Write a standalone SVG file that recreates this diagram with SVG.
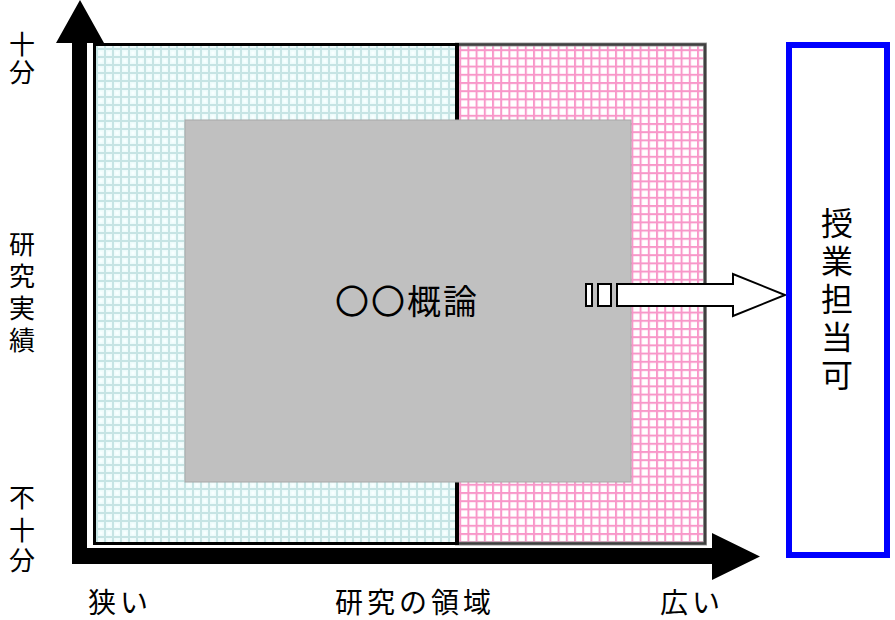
<svg xmlns="http://www.w3.org/2000/svg" width="895" height="620" viewBox="0 0 895 620">
<style>
text{font-family:"Noto Sans CJK JP","Noto Sans CJK SC",sans-serif;fill:#000}
.ax{fill:#000;stroke:none}
.lbl{font-size:28px;letter-spacing:4px}
.side{font-size:26px;text-anchor:middle}
</style>
<defs>
<pattern id="blueGrid" width="8" height="8" patternUnits="userSpaceOnUse">
<rect width="8" height="8" fill="#c6e4e4"/>
<rect x="2" y="2" width="6" height="6" fill="#eefbfb"/>
<rect x="3.5" y="3.5" width="3" height="3" fill="#f8ffff"/>
</pattern>
<pattern id="pinkGrid" width="8.2" height="8.2" patternUnits="userSpaceOnUse">
<rect width="8.2" height="8.2" fill="#ffffff"/>
<rect width="2" height="8.2" fill="#f897c9"/>
<rect width="8.2" height="2" fill="#f897c9"/>
</pattern>
</defs>
<rect width="895" height="620" fill="#fff"/>
<g id="region-wide">
<rect x="457" y="44.5" width="248" height="499" fill="url(#pinkGrid)" stroke="#a0a0a0" stroke-width="4"/>
<rect x="457" y="44.5" width="248" height="499" fill="none" stroke="#404040" stroke-width="2.5"/>
</g>
<g id="region-narrow">
<rect x="94.5" y="44.5" width="362" height="499" fill="url(#blueGrid)" stroke="#000" stroke-width="3"/>
<line x1="457" y1="43" x2="457" y2="545" stroke="#000" stroke-width="4"/>
</g>
<g id="course">
<rect x="185" y="120" width="446" height="362" fill="#c0c0c0" stroke="#a8a8a8" stroke-width="1"/>
<text x="335" y="314" font-size="34" letter-spacing="2">〇〇概論</text>
</g>
<g id="connectors">
<polygon class="ax" points="72,43 56,43 80,0 104,43 87,43 87,564 72,564"/>
<polygon class="ax" points="72,548 712,548 712,533 760,556.5 712,580 712,564 72,564"/>
<g fill="#fff" stroke="#000" stroke-width="2">
<rect x="586" y="284" width="6" height="22"/>
<rect x="598" y="284" width="13" height="22"/>
<polygon points="617,284 733,284 733,274 785,295 733,316 733,306 617,306"/>
</g>
</g>
<g id="teachable">
<rect x="789" y="45" width="98" height="510" fill="#fff" stroke="#0000ff" stroke-width="6"/>
<text font-size="32" text-anchor="middle"><tspan x="837" y="235">授</tspan><tspan x="837" y="273">業</tspan><tspan x="837" y="311">担</tspan><tspan x="837" y="349">当</tspan><tspan x="837" y="387">可</tspan></text>
</g>
<g id="y-labels">
<text class="side"><tspan x="22" y="54">十</tspan><tspan x="22" y="82">分</tspan></text>
<text class="side"><tspan x="22" y="254">研</tspan><tspan x="22" y="286">究</tspan><tspan x="22" y="318">実</tspan><tspan x="22" y="350">績</tspan></text>
<text class="side"><tspan x="22" y="507">不</tspan><tspan x="22" y="540">十</tspan><tspan x="22" y="570">分</tspan></text>
</g>
<g id="x-labels">
<text class="lbl" x="88" y="613">狭い</text>
<text class="lbl" x="335" y="613">研究の領域</text>
<text class="lbl" x="660" y="613">広い</text>
</g>
</svg>
